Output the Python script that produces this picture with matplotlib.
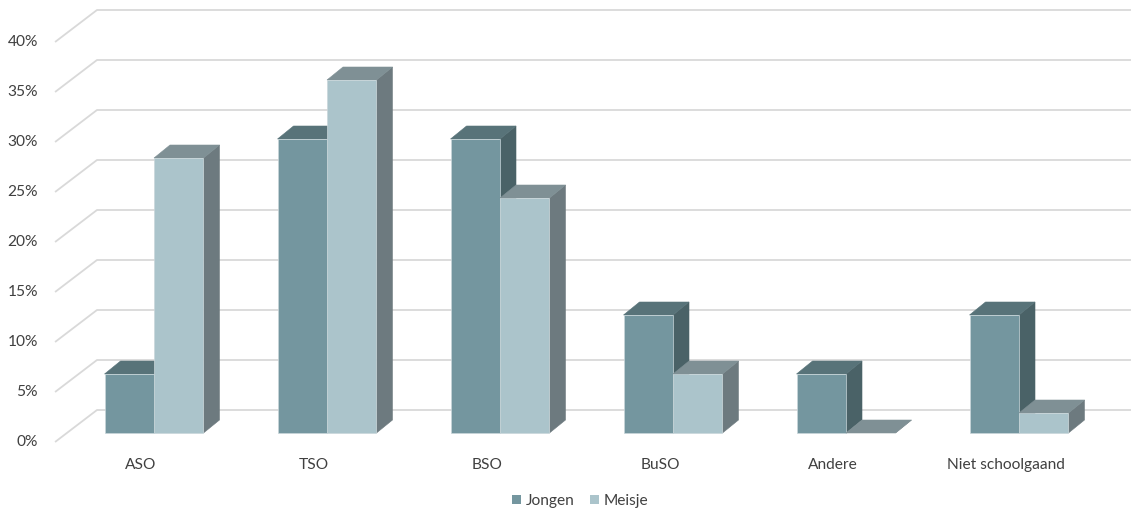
import matplotlib
matplotlib.use("Agg")
import matplotlib.pyplot as plt
from matplotlib.patches import Polygon, Patch

categories = ["ASO", "TSO", "BSO", "BuSO", "Andere", "Niet schoolgaand"]
jongen = [5.9, 29.4, 29.4, 11.8, 5.9, 11.8]
meisje = [27.5, 35.3, 23.5, 5.9, 0.0, 2.0]
yticks = [0, 5, 10, 15, 20, 25, 30, 35, 40]
series_names = ["Jongen", "Meisje"]

# face colours: front, top, side
colors = {
    "Jongen": ("#74969f", "#587379", "#4a6267"),
    "Meisje": ("#abc4cb", "#7f9095", "#6d7a7f"),
}
text_color = "#404040"
grid_color = "#d9d9d9"
font_size = 11.2

plt.rcParams["font.family"] = ["Lato", "DejaVu Sans"]

fig = plt.figure(figsize=(11.31, 5.13), dpi=100)
ax = fig.add_axes([0, 0, 1, 1])
ax.set_xlim(-0.8902, 5.6474)
ax.set_ylim(-8.0, 43.3)
ax.axis("off")

# perspective offsets (data units)
bar_w = 0.286
bar_dx, bar_dy = 0.0925, 1.3
wall_front_x, wall_back_x = -0.572, -0.3295
wall_front_dy, wall_back_dy = -0.9, 2.3

# back wall gridlines with the receding floor edge
for v in yticks:
    ax.plot([wall_front_x, wall_back_x, 5.7],
            [v + wall_front_dy, v + wall_back_dy, v + wall_back_dy],
            color=grid_color, lw=1.3, zorder=1, solid_capstyle="butt")
    ax.text(-0.6705, v + wall_front_dy, f"{v}%", ha="right", va="center",
            fontsize=font_size, color=text_color)


def draw_bar(x0, h, name):
    front, top, side = colors[name]
    x1 = x0 + bar_w
    # side face
    ax.add_patch(Polygon([(x1, 0), (x1 + bar_dx, bar_dy), (x1 + bar_dx, h + bar_dy), (x1, h)],
                         closed=True, facecolor=side, edgecolor=side, lw=0.4, zorder=2))
    # top face
    ax.add_patch(Polygon([(x0, h), (x1, h), (x1 + bar_dx, h + bar_dy), (x0 + bar_dx, h + bar_dy)],
                         closed=True, facecolor=top, edgecolor=top, lw=0.4, zorder=2))
    # front face
    if h > 0:
        ax.add_patch(Polygon([(x0, 0), (x1, 0), (x1, h), (x0, h)],
                             closed=True, facecolor=front, edgecolor="#c9d6da", lw=0.5, zorder=2))


for i, cat in enumerate(categories):
    draw_bar(i - bar_w, jongen[i], "Jongen")
    draw_bar(i, meisje[i], "Meisje")
    ax.text(i - 0.075, -3.2, cat, ha="center", va="center", fontsize=font_size, color=text_color)

handles = [Patch(facecolor=colors[n][0], edgecolor="none") for n in series_names]
leg = fig.legend(handles, series_names, loc="center", bbox_to_anchor=(580 / 1131, 1 - 501 / 513),
                 ncol=2, frameon=False, fontsize=font_size, handlelength=0.6, handleheight=0.6,
                 handletextpad=0.3, columnspacing=1.0)
for t in leg.get_texts():
    t.set_color(text_color)

fig.savefig("out.png", dpi=100)
